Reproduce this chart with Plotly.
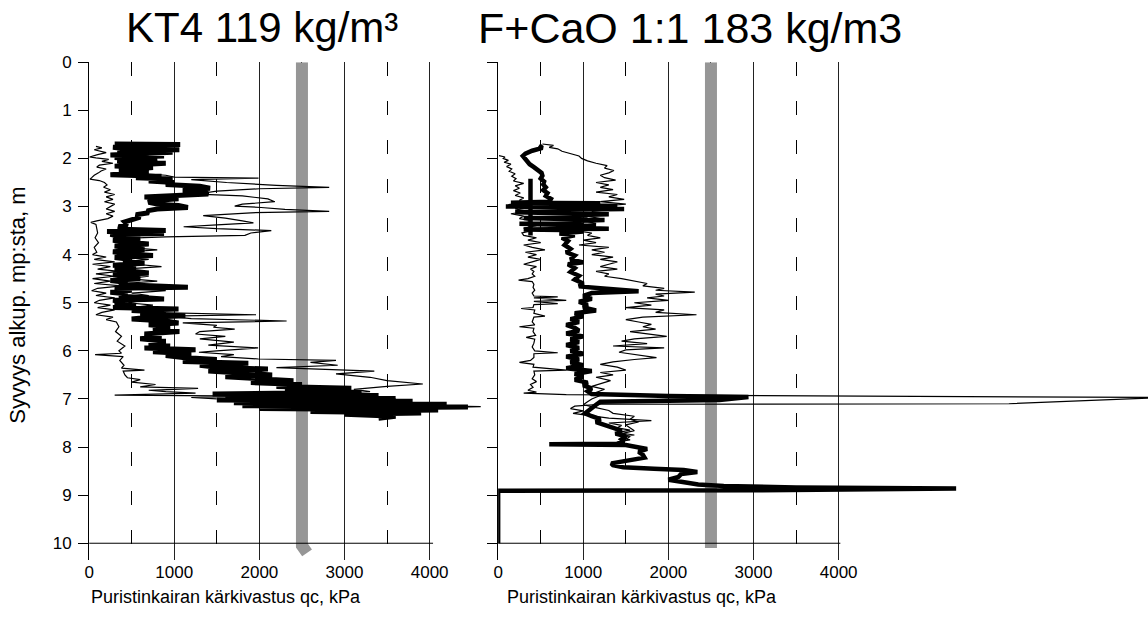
import plotly.graph_objects as go

# ---------------- data (depth m, qc kPa) ----------------
kt4_thick = [
    (1.70, 300), (1.71, 1070), (1.73, 350), (1.75, 1050), (1.77, 280), (1.80, 420), (1.82, 1060),
    (1.84, 330), (1.87, 980), (1.90, 400), (1.93, 250), (1.95, 880), (1.98, 300), (2.00, 450),
    (2.03, 800), (2.05, 330), (2.08, 500), (2.10, 900), (2.13, 380), (2.16, 300), (2.19, 750),
    (2.22, 420), (2.25, 350), (2.28, 700), (2.31, 480), (2.34, 250), (2.37, 850), (2.40, 550),
    (2.43, 980), (2.47, 700), (2.50, 1000), (2.54, 900), (2.58, 1300), (2.62, 1420), (2.66, 1100),
    (2.70, 1350), (2.74, 1400), (2.77, 1050), (2.80, 650), (2.84, 1050), (2.88, 720), (2.91, 700),
    (2.95, 800), (2.98, 1050), (3.02, 1160), (3.05, 800), (3.09, 680), (3.13, 700), (3.17, 550),
    (3.22, 600), (3.27, 500), (3.32, 420), (3.37, 450), (3.42, 350), (3.47, 380), (3.50, 900),
    (3.52, 210), (3.56, 880), (3.58, 250), (3.62, 350), (3.66, 600), (3.70, 280), (3.74, 450),
    (3.78, 700), (3.82, 300), (3.86, 500), (3.90, 650), (3.94, 280), (3.98, 420), (4.02, 750),
    (4.06, 300), (4.10, 500), (4.14, 400), (4.18, 650), (4.22, 280), (4.26, 550), (4.30, 300),
    (4.34, 480), (4.38, 700), (4.42, 280), (4.46, 420), (4.50, 600), (4.54, 250), (4.58, 450),
    (4.62, 350), (4.66, 800), (4.68, 1160), (4.70, 300), (4.74, 500), (4.78, 250), (4.82, 450),
    (4.86, 350), (4.90, 600), (4.92, 880), (4.95, 280), (4.99, 450), (5.03, 300), (5.07, 550),
    (5.10, 280), (5.13, 1050), (5.16, 500), (5.20, 900), (5.24, 600), (5.27, 1130), (5.30, 700),
    (5.34, 500), (5.38, 900), (5.42, 1050), (5.46, 700), (5.50, 950), (5.55, 750), (5.60, 1060),
    (5.65, 650), (5.70, 850), (5.75, 600), (5.80, 900), (5.85, 700), (5.90, 950), (5.94, 650),
    (5.98, 1250), (6.02, 750), (6.06, 1200), (6.10, 900), (6.14, 1100), (6.18, 1500), (6.22, 1100),
    (6.26, 1870), (6.30, 1300), (6.34, 1500), (6.38, 2100), (6.42, 1400), (6.46, 1800), (6.50, 2150),
    (6.54, 1600), (6.58, 2000), (6.62, 2400), (6.66, 1900), (6.70, 2500), (6.74, 2200), (6.78, 3080),
    (6.82, 2300), (6.86, 3200), (6.90, 1450), (6.93, 3400), (6.96, 1600), (6.99, 3600), (7.02, 1500),
    (7.05, 3800), (7.08, 1700), (7.11, 4200), (7.14, 1800), (7.17, 4450), (7.20, 2000), (7.23, 4100),
    (7.26, 2600), (7.29, 3900), (7.32, 3000), (7.36, 3600), (7.40, 3400),
]

kt4_thin_a = [
    (1.75, 80), (1.78, 150), (1.82, 60), (1.85, 120), (1.88, 200), (1.92, 100), (1.95, 20),
    (1.97, 5), (1.99, 80), (2.02, 230), (2.06, 150), (2.10, 280), (2.14, 120), (2.18, 90),
    (2.22, 200), (2.26, 140), (2.30, 110), (2.35, 60), (2.40, 30), (2.43, 10), (2.46, 120),
    (2.50, 180), (2.55, 210), (2.60, 170), (2.65, 250), (2.70, 180), (2.75, 300), (2.80, 200),
    (2.85, 280), (2.90, 180), (2.95, 300), (3.00, 250), (3.05, 200), (3.10, 300), (3.15, 200),
    (3.20, 280), (3.25, 220), (3.30, 90), (3.33, 20), (3.37, 80), (3.45, 90), (3.55, 100),
    (3.65, 70), (3.75, 110), (3.85, 60), (3.95, 90), (4.00, 40), (4.05, 200), (4.10, 60),
    (4.15, 300), (4.20, 40), (4.25, 250), (4.30, 100), (4.35, 350), (4.40, 80), (4.45, 300),
    (4.50, 40), (4.55, 250), (4.60, 60), (4.65, 380), (4.70, 100), (4.75, 30), (4.80, 200),
    (4.85, 80), (4.90, 300), (4.95, 120), (5.00, 60), (5.05, 250), (5.10, 100), (5.15, 300),
    (5.20, 150), (5.25, 80), (5.30, 280), (5.35, 200), (5.40, 320), (5.50, 350), (5.60, 310),
    (5.70, 380), (5.80, 330), (5.90, 420), (6.00, 350), (6.05, 380), (6.08, 70), (6.12, 400),
    (6.20, 360), (6.30, 410), (6.36, 380), (6.40, 650), (6.42, 400), (6.50, 420), (6.56, 450),
    (6.60, 600), (6.65, 500), (6.70, 780), (6.75, 600), (6.78, 1280), (6.82, 700), (6.85, 900),
    (6.88, 1250), (6.92, 300), (6.94, 1950), (6.97, 1200), (7.00, 1500),
]

kt4_thin_b = [
    (1.72, 500), (1.76, 900), (1.80, 400), (1.85, 950), (1.90, 500), (1.95, 700), (2.00, 400),
    (2.05, 800), (2.10, 450), (2.15, 600), (2.20, 350), (2.25, 700), (2.30, 500), (2.35, 900),
    (2.39, 1000), (2.41, 1990), (2.44, 1200), (2.50, 1615), (2.56, 2200), (2.60, 2820), (2.63, 2000),
    (2.68, 1500), (2.74, 1270), (2.78, 1800), (2.84, 2100), (2.90, 2180), (2.95, 1800), (2.99, 1710),
    (3.02, 2020), (3.06, 2300), (3.10, 2820), (3.13, 1900), (3.19, 1340), (3.24, 1600), (3.30, 1800),
    (3.34, 1930), (3.38, 1500), (3.42, 1110), (3.46, 1500), (3.50, 2140), (3.55, 1900), (3.60, 1830),
    (3.63, 900), (3.66, 400), (3.70, 600), (3.75, 350), (3.80, 700), (3.85, 450), (3.90, 800),
    (3.95, 400), (4.00, 650), (4.05, 350), (4.10, 700), (4.15, 400), (4.20, 550), (4.25, 850),
    (4.30, 400), (4.35, 600), (4.40, 300), (4.45, 700), (4.50, 450), (4.55, 800), (4.60, 400),
    (4.65, 650), (4.70, 350), (4.75, 900), (4.80, 500), (4.85, 700), (4.90, 400), (4.95, 650),
    (5.00, 450), (5.05, 750), (5.10, 500), (5.15, 900), (5.20, 700), (5.25, 1960), (5.28, 900),
    (5.33, 1200), (5.38, 2320), (5.42, 1100), (5.47, 1500), (5.51, 1460), (5.55, 1710), (5.60, 1300),
    (5.65, 1250), (5.70, 1600), (5.75, 1300), (5.82, 1700), (5.88, 1400), (5.94, 1985), (6.00, 1500),
    (6.03, 1290), (6.08, 1700), (6.12, 1550), (6.17, 1990), (6.20, 2900), (6.24, 2600), (6.30, 2920),
    (6.35, 2200), (6.42, 3350), (6.48, 2900), (6.55, 3300), (6.62, 3500), (6.69, 3920), (6.74, 3500),
    (6.80, 3110), (6.85, 3300), (6.88, 2800), (6.92, 3200), (6.96, 2600), (7.00, 3600), (7.04, 3000),
    (7.08, 3900), (7.12, 3300), (7.16, 4600), (7.19, 3800), (7.22, 4000), (7.26, 3400), (7.30, 3600),
    (7.34, 3200),
]

fcao_thick = [
    (1.73, 480), (1.78, 520), (1.84, 400), (1.90, 320), (1.95, 290), (2.00, 310), (2.06, 330),
    (2.12, 370), (2.18, 420), (2.24, 470), (2.30, 510), (2.36, 520), (2.42, 500), (2.48, 540),
    (2.54, 530), (2.60, 560), (2.66, 530), (2.72, 580), (2.78, 560), (2.84, 620), (2.90, 600),
    (2.92, 150), (2.93, 1200), (2.96, 600), (2.99, 1400), (3.01, 250), (3.02, 650), (3.05, 1480),
    (3.07, 600), (3.10, 1100), (3.12, 200), (3.13, 650), (3.16, 1300), (3.19, 620), (3.22, 1050),
    (3.24, 300), (3.25, 700), (3.28, 1250), (3.31, 680), (3.34, 1000), (3.36, 250), (3.37, 720),
    (3.40, 1150), (3.43, 700), (3.46, 1300), (3.48, 300), (3.49, 750), (3.52, 1000),
    (3.56, 720), (3.60, 900), (3.65, 750), (3.72, 820), (3.80, 780), (3.88, 850), (3.95, 800),
    (4.02, 900), (4.10, 850), (4.16, 1000), (4.20, 820), (4.28, 900), (4.36, 850), (4.44, 950),
    (4.52, 900), (4.60, 1000), (4.66, 950), (4.70, 1200), (4.76, 1650), (4.80, 1100), (4.86, 1000),
    (4.92, 1100), (4.98, 950), (5.04, 1050), (5.10, 1000), (5.16, 1150), (5.22, 900), (5.28, 1000),
    (5.34, 850), (5.40, 950), (5.46, 800), (5.52, 900), (5.58, 950), (5.64, 800), (5.70, 1000),
    (5.76, 850), (5.82, 950), (5.88, 800), (5.94, 950), (6.00, 850), (6.06, 1000), (6.12, 800),
    (6.18, 950), (6.24, 850), (6.30, 1000), (6.36, 800), (6.42, 1100), (6.48, 900), (6.54, 1000),
    (6.60, 900), (6.66, 1050), (6.72, 1000), (6.78, 1100), (6.84, 1050), (6.90, 1100), (6.94, 2000),
    (6.96, 2940), (7.02, 2600), (7.04, 1400), (7.06, 1200), (7.12, 1150), (7.18, 1100), (7.24, 1050),
    (7.30, 1020), (7.36, 1100), (7.42, 1200), (7.48, 1150), (7.54, 1250), (7.60, 1350), (7.66, 1450),
    (7.72, 1380), (7.78, 1500), (7.84, 1450), (7.88, 1480), (7.93, 1400), (7.94, 600), (7.96, 1500),
    (8.00, 1630), (8.04, 1750), (8.10, 1650), (8.16, 1700), (8.22, 1720), (8.28, 1500), (8.34, 1330),
    (8.38, 1350), (8.42, 1470), (8.45, 1830), (8.48, 2180), (8.52, 2340), (8.56, 2150), (8.62, 2120),
    (8.68, 2000), (8.72, 2150), (8.78, 2350), (8.81, 2650), (8.84, 3500), (8.86, 5380), (8.90, 3000),
    (8.91, 0), (10.00, 0),
]

fcao_thick_cross = [(2.42, 380), (3.00, 380), (3.00, 90), (3.00, 380), (3.60, 380)]

fcao_thin_a = [
    (1.94, 10), (1.97, 80), (2.00, 60), (2.04, 120), (2.08, 70), (2.12, 150), (2.17, 100),
    (2.22, 160), (2.27, 130), (2.32, 200), (2.37, 160), (2.42, 210), (2.47, 180), (2.52, 300),
    (2.57, 200), (2.62, 250), (2.67, 180), (2.72, 260), (2.77, 200), (2.82, 300), (2.87, 250),
    (2.92, 300), (2.96, 120), (3.00, 300), (3.05, 200), (3.10, 350), (3.15, 150), (3.20, 300),
    (3.25, 250), (3.30, 400), (3.35, 300), (3.40, 450), (3.45, 300), (3.50, 400), (3.55, 280),
    (3.60, 300), (3.65, 450), (3.70, 350), (3.75, 500), (3.80, 300), (3.85, 400), (3.90, 550),
    (3.95, 320), (4.00, 450), (4.05, 350), (4.10, 500), (4.15, 400), (4.20, 300), (4.25, 450),
    (4.30, 380), (4.35, 420), (4.40, 400), (4.45, 430), (4.50, 350), (4.53, 240), (4.56, 400),
    (4.62, 420), (4.68, 410), (4.74, 430), (4.80, 400), (4.86, 420), (4.88, 700), (4.90, 420),
    (4.95, 800), (4.97, 420), (5.02, 700), (5.04, 420), (5.10, 410), (5.12, 270), (5.15, 430),
    (5.22, 420), (5.28, 550), (5.30, 420), (5.40, 400), (5.46, 430), (5.50, 250), (5.53, 420),
    (5.60, 410), (5.68, 440), (5.72, 330), (5.76, 430), (5.84, 420), (5.92, 400), (6.00, 430),
    (6.04, 700), (6.06, 420), (6.14, 420), (6.20, 380), (6.24, 250), (6.28, 420), (6.34, 410),
    (6.40, 800), (6.42, 420), (6.50, 430), (6.58, 400), (6.64, 450), (6.70, 380), (6.76, 410),
    (6.82, 350), (6.86, 450), (6.88, 300), (6.91, 800), (6.97, 7800), (7.10, 6000), (7.11, 1200),
    (7.15, 900), (7.20, 850), (7.25, 1000), (7.30, 880), (7.35, 1100), (7.40, 1300), (7.45, 1800),
    (7.50, 1300), (7.55, 1450), (7.60, 1400), (7.65, 1550), (7.70, 1400), (7.75, 1600), (7.80, 1450),
    (7.85, 1550), (7.88, 1450),
]

fcao_thin_b = [
    (1.70, 520), (1.73, 650), (1.77, 600), (1.80, 700), (1.85, 750), (1.90, 850), (1.95, 950),
    (2.00, 980), (2.05, 1050), (2.10, 1150), (2.15, 1280), (2.20, 1250), (2.25, 1360), (2.30, 1300),
    (2.35, 1200), (2.40, 1250), (2.45, 1380), (2.50, 1150), (2.55, 1300), (2.60, 1200), (2.65, 1350),
    (2.70, 1150), (2.75, 1400), (2.80, 1300), (2.85, 1480), (2.90, 1200), (2.95, 1500), (3.00, 1150),
    (3.05, 1400), (3.10, 1100), (3.15, 1250), (3.20, 1050), (3.25, 1200), (3.30, 1000), (3.35, 1150),
    (3.40, 950), (3.45, 1100), (3.50, 900), (3.55, 1100), (3.60, 1050), (3.65, 1200), (3.70, 1000),
    (3.75, 1150), (3.80, 950), (3.85, 1300), (3.90, 1100), (3.95, 1250), (4.00, 1100), (4.05, 1350),
    (4.10, 1200), (4.15, 1400), (4.20, 1300), (4.25, 1200), (4.30, 1400), (4.35, 1150), (4.40, 1300),
    (4.45, 1250), (4.50, 1450), (4.55, 1600), (4.60, 1750), (4.65, 1700), (4.70, 1950), (4.74, 1850),
    (4.78, 2310), (4.82, 1850), (4.86, 1950), (4.90, 1750), (4.95, 2000), (5.00, 1600), (5.05, 1800),
    (5.10, 1500), (5.15, 1950), (5.20, 1850), (5.25, 2330), (5.30, 1700), (5.35, 1500), (5.40, 1650),
    (5.45, 1800), (5.50, 1700), (5.55, 1850), (5.60, 1550), (5.65, 1800), (5.70, 1980), (5.75, 1600),
    (5.80, 1450), (5.85, 1750), (5.90, 1350), (5.94, 1950), (5.98, 1500), (6.03, 1420), (6.08, 1650),
    (6.14, 1860), (6.18, 1600), (6.23, 1350), (6.28, 1200), (6.34, 1400), (6.40, 1500), (6.45, 1200),
    (6.50, 1350), (6.55, 1150), (6.62, 1320), (6.68, 1200), (6.74, 1100), (6.80, 1250), (6.86, 1150),
    (6.90, 1100), (6.93, 1200), (7.00, 1100), (7.06, 1050), (7.12, 1000), (7.18, 1150), (7.24, 1300),
    (7.30, 1350), (7.36, 1600), (7.42, 1550), (7.48, 1650), (7.54, 1500), (7.60, 1550), (7.66, 1600),
    (7.72, 1450), (7.78, 1550), (7.84, 1500), (7.88, 1450),
]

ref_line_left = [(0.0, 2500), (10.05, 2500), (10.2, 2560)]
ref_line_right = [(0.0, 2500), (10.1, 2500)]

titles = ["KT4 119 kg/m³", "F+CaO 1:1 183 kg/m3"]
x_title = "Puristinkairan kärkivastus qc, kPa"
y_title = "Syvyys alkup. mp:sta, m"
x_major = [0, 1000, 2000, 3000, 4000]
x_minor = [500, 1500, 2500, 3500]
y_ticks = list(range(0, 11))

# ---------------- figure ----------------
W, H = 1148, 628
FONT = "Liberation Sans, Arial, sans-serif"


def split(pairs):
    d = [p[0] for p in pairs]
    q = [p[1] for p in pairs]
    return d, q


fig = go.Figure()


def add_line(pairs, xa, ya, width, color="black"):
    d, q = split(pairs)
    fig.add_trace(go.Scatter(x=q, y=d, mode="lines", xaxis=xa, yaxis=ya,
                             line=dict(color=color, width=width), hoverinfo="skip"))


GRAY = "rgb(150,150,150)"
add_line(ref_line_left, "x", "y", 12, GRAY)
add_line(kt4_thin_a, "x", "y", 1.2)
add_line(kt4_thin_b, "x", "y", 1.2)
add_line(kt4_thick, "x", "y", 5)

add_line(ref_line_right, "x2", "y2", 12, GRAY)
add_line(fcao_thin_a, "x2", "y2", 1.2)
add_line(fcao_thin_b, "x2", "y2", 1.2)
add_line(fcao_thick_cross, "x2", "y2", 4.5)
add_line(fcao_thick, "x2", "y2", 4.5)

px_per_kpa = 85.5 / 1000.0
x0_left, x0_right = 84.5, 495.3
y_top, y_ten = 54.0, 542.0
px_per_m = (y_ten - y_top) / 10.0
y_max = 10.35
y_bot = y_top + y_max * px_per_m
right_range = (W - x0_right) / px_per_kpa
left_range = (x0_right - x0_left) / px_per_kpa

xcommon = dict(
    tickmode="array", tickvals=x_major, ticks="", showline=False, zeroline=False,
    showgrid=True, gridcolor="#222", gridwidth=1,
    tickfont=dict(family=FONT, size=17, color="black"),
    minor=dict(tickmode="array", tickvals=x_minor, showgrid=True, gridcolor="black",
               gridwidth=1, griddash="14px,25px"),
)
ycommon = dict(
    range=[y_max, 0], tickmode="array", tickvals=y_ticks, ticks="outside", ticklen=10,
    tickcolor="black", tickwidth=1, showline=True, linecolor="black", linewidth=1,
    showgrid=False, zeroline=False, ticklabelstandoff=3,
    domain=[1 - y_bot / H, 1 - y_top / H],
    tickfont=dict(family=FONT, size=17, color="black"),
)

fig.update_layout(
    width=W, height=H, margin=dict(l=0, r=0, t=0, b=0),
    paper_bgcolor="white", plot_bgcolor="white", showlegend=False,
    xaxis=dict(xcommon, range=[0, left_range], domain=[x0_left / W, x0_right / W], anchor="y"),
    yaxis=dict(ycommon, anchor="x"),
    xaxis2=dict(xcommon, range=[0, right_range], domain=[x0_right / W, 1.0], anchor="y2"),
    yaxis2=dict(ycommon, anchor="x2", showticklabels=False),
)

# depth-10 axis lines
fig.add_shape(type="line", xref="x", yref="y", x0=0, x1=4040, y0=10, y1=10,
              line=dict(color="black", width=1))
fig.add_shape(type="line", xref="x2", yref="y2", x0=0, x1=4020, y0=10, y1=10,
              line=dict(color="black", width=1))

# titles
fig.add_annotation(text=titles[0], x=258 / W, y=1 - 19 / H, xref="paper", yref="paper",
                   showarrow=False, xanchor="center", yanchor="middle",
                   font=dict(family=FONT, size=42, color="black"))
fig.add_annotation(text=titles[1], x=688 / W, y=1 - 19 / H, xref="paper", yref="paper",
                   showarrow=False, xanchor="center", yanchor="middle",
                   font=dict(family=FONT, size=43, color="black"))
for cx in (222, 640):
    fig.add_annotation(text=x_title, x=cx / W, y=1 - 597 / H, xref="paper", yref="paper",
                       showarrow=False, xanchor="center", yanchor="middle",
                       font=dict(family=FONT, size=18, color="black"))
fig.add_annotation(text=y_title, x=13 / W, y=1 - 300 / H, xref="paper", yref="paper",
                   showarrow=False, xanchor="center", yanchor="middle", textangle=-90,
                   font=dict(family=FONT, size=22, color="black"))

fig.write_html("out.html", config={"displayModeBar": False},
               post_script="document.body.style.margin='0';document.body.style.overflow='hidden';")
